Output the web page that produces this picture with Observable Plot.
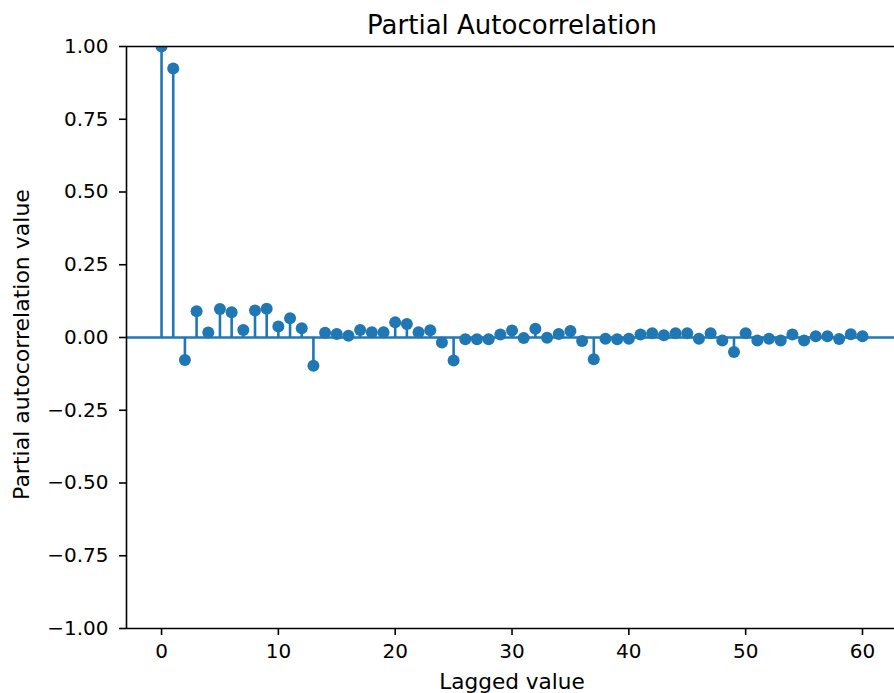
<!DOCTYPE html>
<html>
<head>
<meta charset="utf-8">
<script src="https://cdn.jsdelivr.net/npm/d3@7"></script>
<script src="https://cdn.jsdelivr.net/npm/@observablehq/plot@0.6"></script>
<style>
  html, body { margin: 0; padding: 0; background: #fff; }
  #chart svg { display: block; }
</style>
</head>
<body>
<div id="chart"></div>
<script>
const lags = [0,1,2,3,4,5,6,7,8,9,10,11,12,13,14,15,16,17,18,19,20,21,22,23,24,25,26,27,28,29,30,
  31,32,33,34,35,36,37,38,39,40,41,42,43,44,45,46,47,48,49,50,51,52,53,54,55,56,57,58,59,60];
const pacfValues = [1.0, 0.924, -0.077, 0.090, 0.017, 0.098, 0.087, 0.026, 0.093, 0.099, 0.038,
  0.066, 0.032, -0.097, 0.016, 0.012, 0.006, 0.026, 0.018, 0.018, 0.052,
  0.046, 0.018, 0.025, -0.017, -0.079, -0.006, -0.006, -0.006, 0.010, 0.024,
  -0.002, 0.030, -0.001, 0.012, 0.022, -0.012, -0.075, -0.004, -0.006, -0.004,
  0.010, 0.015, 0.008, 0.015, 0.015, -0.004, 0.015, -0.010, -0.050, 0.015,
  -0.010, -0.004, -0.010, 0.010, -0.010, 0.004, 0.004, -0.005, 0.011, 0.004];
const xTicks = [0, 10, 20, 30, 40, 50, 60];
const yTicks = [-1, -0.75, -0.5, -0.25, 0, 0.25, 0.5, 0.75, 1];
const titleText = "Partial Autocorrelation";
const xLabel = "Lagged value";
const yLabel = "Partial autocorrelation value";

const data = lags.map((lag, i) => ({lag, value: pacfValues[i]}));
const blue = "#1f77b4";
const fmt = d => d.toFixed(2).replace("-", "\u2212");

const chart = Plot.plot({
  width: 894,
  height: 693,
  marginLeft: 126,
  marginRight: 0,
  marginTop: 46,
  marginBottom: 65,
  style: {fontFamily: "DejaVu Sans", fontSize: "20px", color: "#000", background: "#fff"},
  x: {domain: [-3, 62.74], label: null},
  y: {domain: [-1, 1], label: null},
  marks: [
    Plot.ruleY([0], {stroke: blue, strokeWidth: 2.6}),
    Plot.ruleX(data, {x: "lag", y1: 0, y2: "value", stroke: blue, strokeWidth: 2.6}),
    Plot.dot(data, {x: "lag", y: "value", r: 6, fill: blue, stroke: "none", clip: true}),
    Plot.axisX({ticks: xTicks, tickSize: 7, tickPadding: 8, tickFormat: d => String(d), strokeWidth: 1.6, fontSize: 20, label: null}),
    Plot.axisY({ticks: yTicks, tickSize: 7, tickPadding: 11, tickFormat: fmt, strokeWidth: 1.6, fontSize: 20, label: null}),
    Plot.ruleX([-3], {y1: -1, y2: 1, stroke: "#000", strokeWidth: 1.6}),
    Plot.ruleY([1], {stroke: "#000", strokeWidth: 1.6}),
    Plot.ruleY([-1], {stroke: "#000", strokeWidth: 1.6}),
    Plot.text([titleText], {x: 30, frameAnchor: "top", dy: -31, text: d => d, fontSize: 26, fill: "#000"}),
    Plot.text([xLabel], {x: 30, frameAnchor: "bottom", dy: 60, text: d => d, fontSize: 21.6, fill: "#000"}),
    Plot.text([yLabel], {y: 0, frameAnchor: "left", textAnchor: "middle", dx: -105, dy: 7, rotate: -90, text: d => d, fontSize: 22, fill: "#000"})
  ]
});
document.getElementById("chart").appendChild(chart);
</script>
</body>
</html>
